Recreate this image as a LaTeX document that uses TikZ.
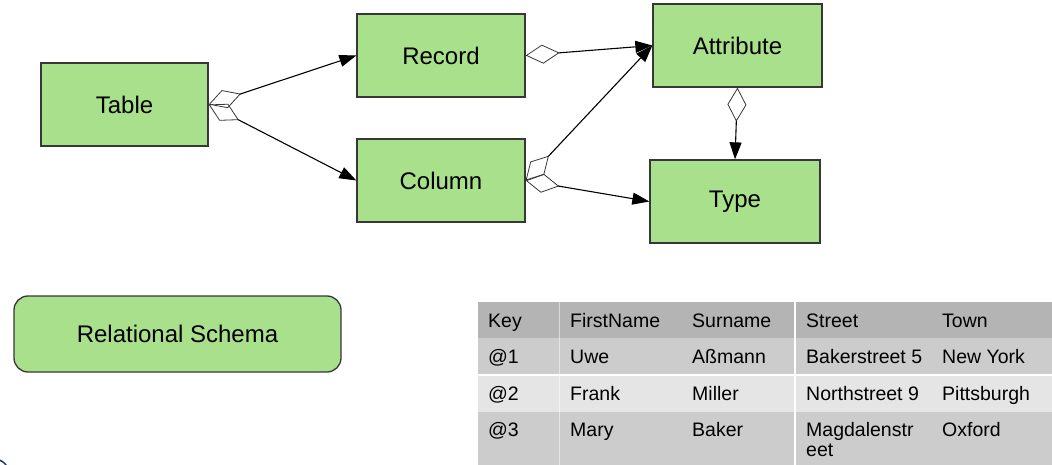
\documentclass[tikz,border=0pt]{standalone}
\usepackage{fontspec}
\setmainfont{Liberation Sans}
\usetikzlibrary{arrows.meta}
\definecolor{boxgreen}{RGB}{169,224,139}
\definecolor{boxline}{RGB}{55,55,55}
\definecolor{headgray}{RGB}{180,180,180}
\definecolor{rowdark}{RGB}{204,204,204}
\definecolor{rowlight}{RGB}{229,229,229}
\definecolor{ringblue}{RGB}{30,50,120}
\tikzset{
  entity/.style={draw=boxline, line width=1.3pt, fill=boxgreen,
    minimum height=83pt, inner sep=0pt,
    font=\fontsize{24}{28}\selectfont},
  schema/.style={entity, rounded corners=14pt, minimum width=327pt, minimum height=76pt},
  assoc/.style={line width=1.1pt, draw=black,
    {Diamond[open, length=34pt, width=19pt, line width=0.8pt, color=boxline]}-{Triangle[length=17pt, width=12pt]}},
  cell/.style={anchor=base west, inner sep=0pt, font=\fontsize{19.5}{20}\selectfont}
}
\begin{document}
\begin{tikzpicture}[x=1pt, y=-1pt]
\useasboundingbox (0,0) rectangle (1052,465);

% entity boxes
\node[entity, minimum width=167pt] (table) at (124.5,104.5) {Table};
\node[entity, minimum width=168pt] (record) at (441,55.5) {Record};
\node[entity, minimum width=169pt] (attribute) at (737.5,45.5) {Attribute};
\node[entity, minimum width=168pt] (column) at (441,180.5) {Column};
\node[entity, minimum width=170pt] (type) at (735,201.5) {Type};

% aggregation connectors
\draw[assoc] (table.east) -- (record.west);
\draw[assoc] (table.east) -- (column.west);
\draw[assoc] (record.east) -- (attribute.west);
\draw[assoc] (column.east) -- (attribute.west);
\draw[assoc] (column.east) -- (type.west);
\draw[assoc] (attribute.south) -- (type.north);

% legend box
\node[schema] (relschema) at (177.5,334) {Relational Schema};

% example relation: row backgrounds
\fill[headgray] (478,302) rectangle (1052,338);
\fill[rowdark] (478,338) rectangle (1052,374);
\fill[rowlight] (478,376) rectangle (1052,412);
\fill[rowdark] (478,412) rectangle (1052,465);
\draw[white, line width=0.6pt, opacity=0.5] (559,302) -- (559,465);
\draw[white, line width=2pt] (795,302) -- (795,465);

% example relation: cell texts
\node[cell] (h1) at (488,327) {Key};
\node[cell] (h2) at (570,327) {FirstName};
\node[cell] (h3) at (692,327) {Surname};
\node[cell] (h4) at (806,327) {Street};
\node[cell] (h5) at (942,327) {Town};

\node[cell] (a1) at (488,363) {@1};
\node[cell] (a2) at (570,363) {Uwe};
\node[cell] (a3) at (692,363) {Aßmann};
\node[cell] (a4) at (806,363) {Bakerstreet 5};
\node[cell] (a5) at (942,363) {New York};

\node[cell] (b1) at (488,400) {@2};
\node[cell] (b2) at (570,400) {Frank};
\node[cell] (b3) at (692,400) {Miller};
\node[cell] (b4) at (806,400) {Northstreet 9};
\node[cell] (b5) at (942,400) {Pittsburgh};

\node[cell] (c1) at (488,436) {@3};
\node[cell] (c2) at (570,436) {Mary};
\node[cell] (c3) at (692,436) {Baker};
\node[cell] (c4) at (806,436) {Magdalenstr};
\node[cell] (c4b) at (806,456) {eet};
\node[cell] (c5) at (942,436) {Oxford};

% partial ring in the lower left corner
\begin{scope}
\clip (0,0) rectangle (1052,465);
\draw[ringblue, line width=1.5pt] (-6,474) circle (15);
\end{scope}
\end{tikzpicture}
\end{document}
